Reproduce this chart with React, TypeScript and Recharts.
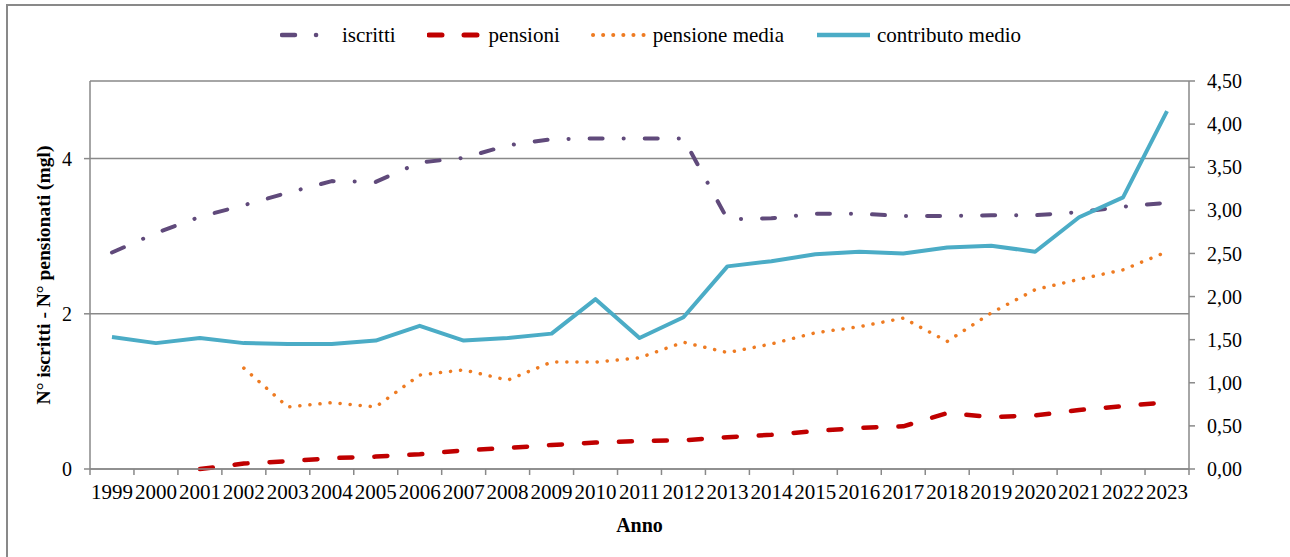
import React from 'react';
import { LineChart, Line, XAxis, YAxis, CartesianGrid, Legend, Label } from 'recharts';

const years = [
  '1999', '2000', '2001', '2002', '2003', '2004', '2005', '2006', '2007', '2008', '2009', '2010', '2011',
  '2012', '2013', '2014', '2015', '2016', '2017', '2018', '2019', '2020', '2021', '2022', '2023',
];
// migliaia (asse sinistro)
const iscritti = [
  2.79, 3.04, 3.25, 3.4, 3.56, 3.71, 3.7, 3.95, 4.01, 4.17, 4.25, 4.26, 4.26,
  4.26, 3.22, 3.23, 3.29, 3.29, 3.26, 3.26, 3.27, 3.27, 3.31, 3.38, 3.43,
];
const pensioni = [
  null, null, 0.0, 0.07, 0.1, 0.14, 0.16, 0.19, 0.24, 0.27, 0.31, 0.34, 0.36,
  0.37, 0.41, 0.44, 0.49, 0.53, 0.55, 0.72, 0.67, 0.69, 0.76, 0.81, 0.86,
];
// asse destro
const pensioneMedia = [
  null, null, null, 1.17, 0.72, 0.77, 0.72, 1.09, 1.15, 1.03, 1.24, 1.24, 1.29,
  1.47, 1.35, 1.45, 1.58, 1.65, 1.75, 1.48, 1.81, 2.08, 2.2, 2.31, 2.52,
];
const contributoMedio = [
  1.53, 1.46, 1.52, 1.46, 1.45, 1.45, 1.49, 1.66, 1.49, 1.52, 1.57, 1.97, 1.52,
  1.76, 2.35, 2.41, 2.49, 2.52, 2.5, 2.57, 2.59, 2.52, 2.92, 3.15, 4.15,
];
const leftTicks = [0, 2, 4];
const rightTicks = [0, 0.5, 1, 1.5, 2, 2.5, 3, 3.5, 4, 4.5];

const data = years.map((anno, i) => ({
  anno,
  iscritti: iscritti[i],
  pensioni: pensioni[i],
  pensioneMedia: pensioneMedia[i],
  contributoMedio: contributoMedio[i],
}));

const W = 1290;
const H = 557;
const LEFT_W = 90;
const RIGHT_W = 101;
const TOP = 81;
const X_AXIS_H = 88;
const STEP = (W - LEFT_W - RIGHT_W) / years.length;
const FONT = '"Liberation Serif", "Times New Roman", serif';
const GRAY = '#898989';

const series = [
  { key: 'iscritti', name: 'iscritti', color: '#604a7b', width: 4, dash: '13 21 0.1 21', axis: 'left' },
  { key: 'pensioni', name: 'pensioni', color: '#c00000', width: 4.5, dash: '13 22', axis: 'left' },
  { key: 'pensioneMedia', name: 'pensione media', color: '#ee7b22', width: 3.5, dash: '0.1 10', axis: 'right' },
  { key: 'contributoMedio', name: 'contributo medio', color: '#4bacc6', width: 4, dash: undefined, axis: 'right' },
];

const fmt = (v: number) => v.toFixed(2).replace('.', ',');

const XTick = (props: any) => {
  const { x, y, payload, index } = props;
  const half = STEP / 2;
  const last = index === years.length - 1;
  return (
    <g>
      <line x1={x - half} x2={x - half} y1={y - 6} y2={y} stroke={GRAY} strokeWidth={1.5} />
      {last && <line x1={x + half} x2={x + half} y1={y - 6} y2={y} stroke={GRAY} strokeWidth={1.5} />}
      <text x={x} y={y + 24} textAnchor="middle" fontSize={21} fontFamily={FONT} fill="#000">
        {payload.value}
      </text>
    </g>
  );
};

const LegendBox = () => (
  <div
    style={{
      height: TOP,
      boxSizing: 'border-box',
      paddingTop: 25,
      paddingLeft: 42,
      display: 'flex',
      justifyContent: 'center',
      alignItems: 'flex-start',
      fontFamily: FONT,
      fontSize: 21,
      color: '#000',
    }}
  >
    {series.map((s) => (
      <div key={s.key} style={{ display: 'flex', alignItems: 'center', height: 20, marginRight: 31 }}>
        <svg width={55} height={20} style={{ marginRight: 7 }}>
          <line
            x1={2}
            x2={55}
            y1={10}
            y2={10}
            stroke={s.color}
            strokeWidth={s.width + 0.5}
            strokeDasharray={s.dash}
            strokeLinecap={s.dash ? 'round' : 'butt'}
          />
        </svg>
        <span style={{ lineHeight: '20px', whiteSpace: 'nowrap' }}>{s.name}</span>
      </div>
    ))}
  </div>
);

const YTitle = () => {
  const cx = 43;
  const cy = (TOP + (H - X_AXIS_H)) / 2;
  return (
    <text
      x={cx}
      y={cy}
      transform={`rotate(-90, ${cx}, ${cy})`}
      textAnchor="middle"
      dominantBaseline="central"
      fontFamily={FONT}
      fontSize={19.5}
      fontWeight="bold"
      fill="#000"
    >
      N° iscritti - N° pensionati (mgl)
    </text>
  );
};

export default function App() {
  return (
    <div style={{ position: 'absolute', left: 0, top: 0, width: W, height: H, background: '#fff' }}>
      <div
        style={{
          position: 'absolute',
          left: 6,
          top: 4,
          width: W - 8,
          height: H,
          borderTop: `2px solid ${GRAY}`,
          borderLeft: `2px solid ${GRAY}`,
          borderRight: '1px solid #e4e4e4',
        }}
      />
      <div style={{ position: 'absolute', left: 0, top: 0 }}>
        <LineChart width={W} height={H} data={data} margin={{ top: 0, right: 0, bottom: 0, left: 0 }}>
          <CartesianGrid yAxisId="left" vertical={false} stroke={GRAY} strokeWidth={1.5} />
          <XAxis
            dataKey="anno"
            height={X_AXIS_H}
            interval={0}
            padding={{ left: STEP / 2, right: STEP / 2 }}
            tickLine={false}
            tickSize={6}
            tickMargin={0}
            axisLine={{ stroke: GRAY, strokeWidth: 1.5 }}
            tick={<XTick />}
          >
            <Label
              value="Anno"
              position="insideBottom"
              offset={25}
              style={{ fontFamily: FONT, fontSize: 20, fontWeight: 'bold', fill: '#000' }}
            />
          </XAxis>
          <YAxis
            yAxisId="left"
            width={LEFT_W}
            domain={[0, 5]}
            ticks={leftTicks}
            interval={0}
            tickSize={6}
            tickMargin={12}
            axisLine={{ stroke: GRAY, strokeWidth: 1.5 }}
            tickLine={{ stroke: GRAY, strokeWidth: 1.5 }}
            tick={{ fontFamily: FONT, fontSize: 20, fill: '#000' }}
          >
            <Label content={() => <YTitle />} />
          </YAxis>
          <YAxis
            yAxisId="right"
            orientation="right"
            width={RIGHT_W}
            domain={[0, 4.5]}
            ticks={rightTicks}
            interval={0}
            tickSize={6}
            tickMargin={12}
            tickFormatter={fmt}
            axisLine={{ stroke: GRAY, strokeWidth: 1.5 }}
            tickLine={{ stroke: GRAY, strokeWidth: 1.5 }}
            tick={{ fontFamily: FONT, fontSize: 20, fill: '#000' }}
          />
          <Legend verticalAlign="top" align="center" content={<LegendBox />} />
          {series.map((s) => (
            <Line
              key={s.key}
              yAxisId={s.axis}
              type="linear"
              dataKey={s.key}
              name={s.name}
              stroke={s.color}
              strokeWidth={s.width}
              strokeDasharray={s.dash}
              strokeLinecap={s.dash ? 'round' : 'butt'}
              strokeLinejoin="round"
              dot={false}
              activeDot={false}
              connectNulls={false}
              isAnimationActive={false}
            />
          ))}
        </LineChart>
      </div>
    </div>
  );
}
